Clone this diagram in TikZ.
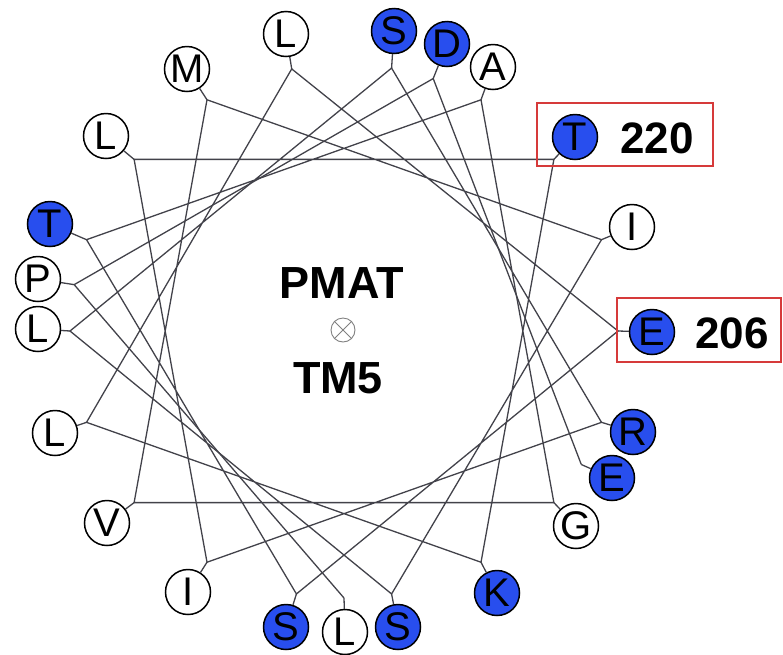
\documentclass[tikz,border=0pt]{standalone}
\usepackage{fontspec}
\setmainfont{Liberation Sans}
\definecolor{resblue}{RGB}{40,78,238}
\definecolor{boxred}{RGB}{214,58,58}
\definecolor{linkgray}{RGB}{66,66,74}
\tikzset{
  res/.style={circle, draw=black, line width=1.5pt, minimum size=45pt, inner sep=0pt,
              font=\fontsize{40}{40}\selectfont},
  polar/.style={res, fill=resblue},
  apolar/.style={res, fill=white},
  link/.style={draw=linkgray, line width=1.3pt},
  redbox/.style={draw=boxred, line width=1.4pt, inner sep=0pt},
  numlabel/.style={font=\bfseries\fontsize{44}{44}\selectfont, anchor=base},
  title/.style={font=\bfseries\fontsize{45}{45}\selectfont, anchor=base}
}
\begin{document}
\begin{tikzpicture}[x=1pt,y=-1pt]
\useasboundingbox (0,0) rectangle (783,654);

% anchor points on the wheel, one per residue position (angle in degrees)
\foreach \ang in {0,20,40,60,71,80,120,140,160,170,180,200,220,240,260,270,280,300,320,330,340}
  \coordinate (a\ang) at ({344+274*cos(\ang)},{331-267*sin(\ang)});
\coordinate (a100) at ({344+274*cos(101)},{331-267*sin(101)});

% residues
\node[polar]  (r0)   at (652,332) {E};
\node[apolar] (r20)  at (632,227) {I};
\node[polar]  (r40)  at (575,137) {T};
\node[apolar] (r60)  at (493,67)  {A};
\node[polar]  (r71)  at (447,44)  {D};
\node[polar]  (r80)  at (394,31)  {S};
\node[apolar] (r100) at (286,34)  {L};
\node[apolar] (r120) at (187,69)  {M};
\node[apolar] (r140) at (106,136) {L};
\node[polar]  (r160) at (50,224)  {T};
\node[apolar] (r170) at (38,279)  {P};
\node[apolar] (r180) at (38,329)  {L};
\node[apolar] (r200) at (55,433)  {L};
\node[apolar] (r220) at (107,523) {V};
\node[apolar] (r240) at (188,592) {I};
\node[polar]  (r260) at (286,627) {S};
\node[apolar] (r270) at (345,632) {L};
\node[polar]  (r280) at (398,627) {S};
\node[polar]  (r300) at (497,593) {K};
\node[apolar] (r320) at (576,526) {G};
\node[polar]  (r330) at (612,478) {E};
\node[polar]  (r340) at (633,432) {R};

% short stubs from each anchor to its residue
\foreach \ang in {0,20,40,60,71,80,100,120,140,160,170,180,200,220,240,260,270,280,300,320,330,340}
  \draw[link] (a\ang) -- (r\ang);

% chords of the wheel, in sequence order
\draw[link] (a0) -- (a260) -- (a160) -- (a60) -- (a320) -- (a220) -- (a120)
  -- (a20) -- (a280) -- (a180) -- (a80) -- (a340) -- (a240) -- (a140)
  -- (a40) -- (a300) -- (a200) -- (a100) -- cycle;
\draw[link] (a270) -- (a170) -- (a71) -- (a330);

% highlighted residues
\node[redbox, minimum width=176pt, minimum height=63pt] (box220) at (625,134.5) {};
\node[redbox, minimum width=164pt, minimum height=64pt] (box206) at (699,330) {};
\node[numlabel] (n220) at (657,153) {220};
\node[numlabel] (n206) at (732,348) {206};

% centre labels
\node[title] (pmat) at (342,298) {PMAT};
\node[title] (tm5)  at (338,393) {TM5};
\node[circle, draw=gray, line width=0.9pt, minimum size=24pt, inner sep=0pt] (axis) at (343,330) {};
\draw[gray, line width=0.9pt] (axis.north east) -- (axis.south west)
  (axis.north west) -- (axis.south east);
\end{tikzpicture}
\end{document}
